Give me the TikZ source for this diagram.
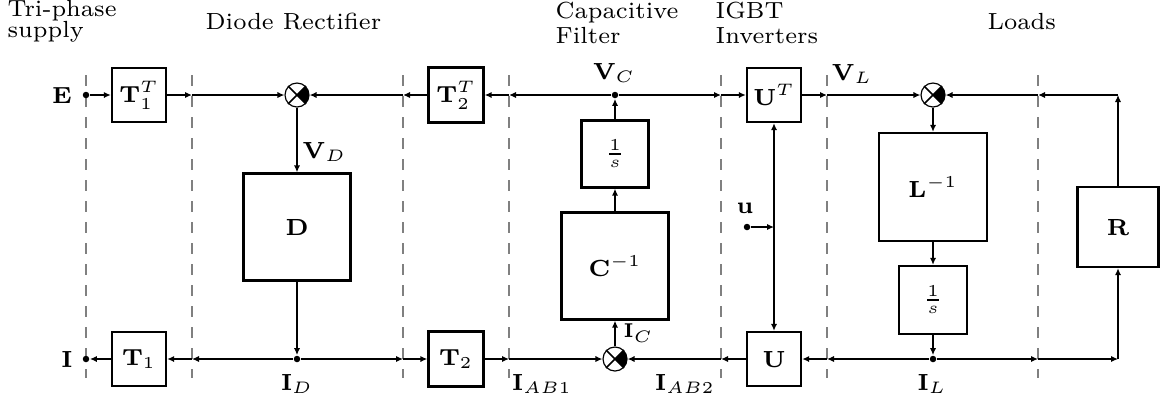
\documentclass[tikz,border=0pt]{standalone}
\usetikzlibrary{arrows.meta}
\newcommand{\pxu}{0.3pt}
\newcommand{\sumfill}[1]{%
  \begin{scope}
    \clip (#1.center) circle[radius=12];
    \fill (#1.center) -- ++(20,-20) -- ++(0,40) -- cycle;
  \end{scope}
  \draw[line width=0.5pt] (#1.45) -- (#1.225) (#1.135) -- (#1.315);
}
\begin{document}
\begin{tikzpicture}[x=0.3pt,y=-0.3pt,
  every node/.style={font=\fontsize{7}{8}\selectfont},
  hdr/.style={anchor=base west,inner sep=0pt},
  lbl/.style={inner sep=0pt},
  blk/.style={draw,line width=0.7pt,inner sep=0pt},
  conn/.style={line width=0.55pt,-{Latex[length=2.1pt,width=1.9pt]}},
  divider/.style={gray,line width=0.35pt,dash pattern=on 3.3pt off 3pt},
  dot/.style={circle,fill,inner sep=0pt,minimum size=6.5*\pxu},
  sumj/.style={circle,draw,line width=0.35pt,inner sep=0pt,minimum size=24*\pxu}]
\useasboundingbox (0,0) rectangle (1161,405);

% section dividers
\foreach \xx in {86,192,403,509,721,827,1038}
  \draw[divider] (\xx,75) -- (\xx,378);

% headers
\node[hdr] (h1a) at (7,16) {Tri-phase};
\node[hdr] (h1b) at (7,37) {supply};
\node[hdr] (h2) at (205,29) {Diode Rectifier};
\node[hdr] (h3a) at (555,18) {Capacitive};
\node[hdr] (h3b) at (555,43) {Filter};
\node[hdr] (h4a) at (715,18) {IGBT};
\node[hdr] (h4b) at (715,43) {Inverters};
\node[hdr] (h5) at (987,29) {Loads};

% blocks
\node[blk,minimum size=54*\pxu] (T1T) at (139,95) {$\mathbf{T}_1^T$};
\node[blk,minimum size=54*\pxu] (T1) at (139,359) {$\mathbf{T}_1$};
\node[blk,minimum size=55*\pxu] (T2T) at (456,95) {$\mathbf{T}_2^T$};
\node[blk,minimum size=55*\pxu] (T2) at (456,359) {$\mathbf{T}_2$};
\node[blk,minimum size=107*\pxu] (D) at (297,227) {$\mathbf{D}$};
\node[blk,minimum size=67*\pxu] (G1) at (615,154) {$\frac{1}{s}$};
\node[blk,minimum size=107*\pxu] (Ci) at (615,266) {$\mathbf{C}^{-1}$};
\node[blk,minimum size=54*\pxu] (UT) at (774,95) {$\mathbf{U}^T$};
\node[blk,minimum size=54*\pxu] (U) at (774,359) {$\mathbf{U}$};
\node[blk,minimum size=108*\pxu] (Li) at (933,187) {$\mathbf{L}^{-1}$};
\node[blk,minimum size=68*\pxu] (G2) at (933,300) {$\frac{1}{s}$};
\node[blk,minimum width=81*\pxu,minimum height=80*\pxu] (R) at (1118,227) {$\mathbf{R}$};

% summing junctions
\node[sumj] (S1) at (297,95) {};
\node[sumj] (S2) at (615,359) {};
\node[sumj] (S3) at (933,95) {};
\sumfill{S1}
\sumfill{S2}
\sumfill{S3}

% dots
\node[dot] (Edot) at (86,95) {};
\node[dot] (Idot) at (86,359) {};
\node[dot] (VC) at (615,95) {};
\node[dot] (ID) at (297,359) {};
\node[dot] (IL) at (933,359) {};
\node[dot] (ud) at (747,227) {};

% crossing points and corners
\coordinate (t2) at (192,95);
\coordinate (t3) at (403,95);
\coordinate (t4) at (509,95);
\coordinate (t5) at (721,95);
\coordinate (t6) at (827,95);
\coordinate (t7) at (1038,95);
\coordinate (b2) at (192,359);
\coordinate (b3) at (403,359);
\coordinate (b4) at (509,359);
\coordinate (b5) at (721,359);
\coordinate (b6) at (827,359);
\coordinate (b7) at (1038,359);
\coordinate (cTR) at (1118,95);
\coordinate (cBR) at (1118,359);
\coordinate (uj) at (774,227);

% labels
\node[lbl] (Elab) at (62,95) {$\mathbf{E}$};
\node[lbl] (Ilab) at (67,359) {$\mathbf{I}$};
\node[lbl,anchor=west] (VDlab) at (302,152) {$\mathbf{V}_D$};
\node[lbl] (IDlab) at (297,384) {$\mathbf{I}_D$};
\node[lbl] (VClab) at (614,73) {$\mathbf{V}_C$};
\node[lbl,anchor=west,font=\fontsize{6}{7}\selectfont] (IClab) at (623,333) {$\mathbf{I}_C$};
\node[lbl] (IAB1) at (542,384) {$\mathbf{I}_{AB1}$};
\node[lbl] (IAB2) at (685,384) {$\mathbf{I}_{AB2}$};
\node[lbl] (ulab) at (745,208) {$\mathbf{u}$};
\node[lbl] (VLlab) at (852,74) {$\mathbf{V}_L$};
\node[lbl] (ILlab) at (932,384) {$\mathbf{I}_L$};

% top connectors
\draw[conn] (Edot) -- (T1T.west);
\draw[conn] (T1T.east) -- (t2);
\draw[conn] (t2) -- (S1.west);
\draw[conn] (VC) -- (t4);
\draw[conn] (t4) -- (T2T.east);
\draw[conn] (T2T.west) -- (t3);
\draw[conn] (t3) -- (S1.east);
\draw[conn] (VC) -- (t5);
\draw[conn] (t5) -- (UT.west);
\draw[conn] (UT.east) -- (t6);
\draw[conn] (t6) -- (S3.west);
\draw[conn] (R.north) -- (cTR);
\draw[conn] (cTR) -- (t7);
\draw[conn] (t7) -- (S3.east);

% vertical connectors
\draw[conn] (S1.south) -- (D.north);
\draw[conn] (D.south) -- (ID);
\draw[conn] (G1.north) -- (VC);
\draw[conn] (Ci.north) -- (G1.south);
\draw[conn] (S2.north) -- (Ci.south);
\draw[conn] (S3.south) -- (Li.north);
\draw[conn] (Li.south) -- (G2.north);
\draw[conn] (G2.south) -- (IL);
\draw[conn] (uj) -- (UT.south);
\draw[conn] (uj) -- (U.north);
\draw[conn] (ud) -- (uj);

% bottom connectors
\draw[conn] (ID) -- (b2);
\draw[conn] (b2) -- (T1.east);
\draw[conn] (T1.west) -- (Idot);
\draw[conn] (ID) -- (b3);
\draw[conn] (b3) -- (T2.west);
\draw[conn] (T2.east) -- (b4);
\draw[conn] (b4) -- (S2.west);
\draw[conn] (U.west) -- (b5);
\draw[conn] (b5) -- (S2.east);
\draw[conn] (IL) -- (b6);
\draw[conn] (b6) -- (U.east);
\draw[conn] (IL) -- (b7);
\draw[conn] (b7) -- (cBR);
\draw[conn] (cBR) -- (R.south);
\end{tikzpicture}
\end{document}
